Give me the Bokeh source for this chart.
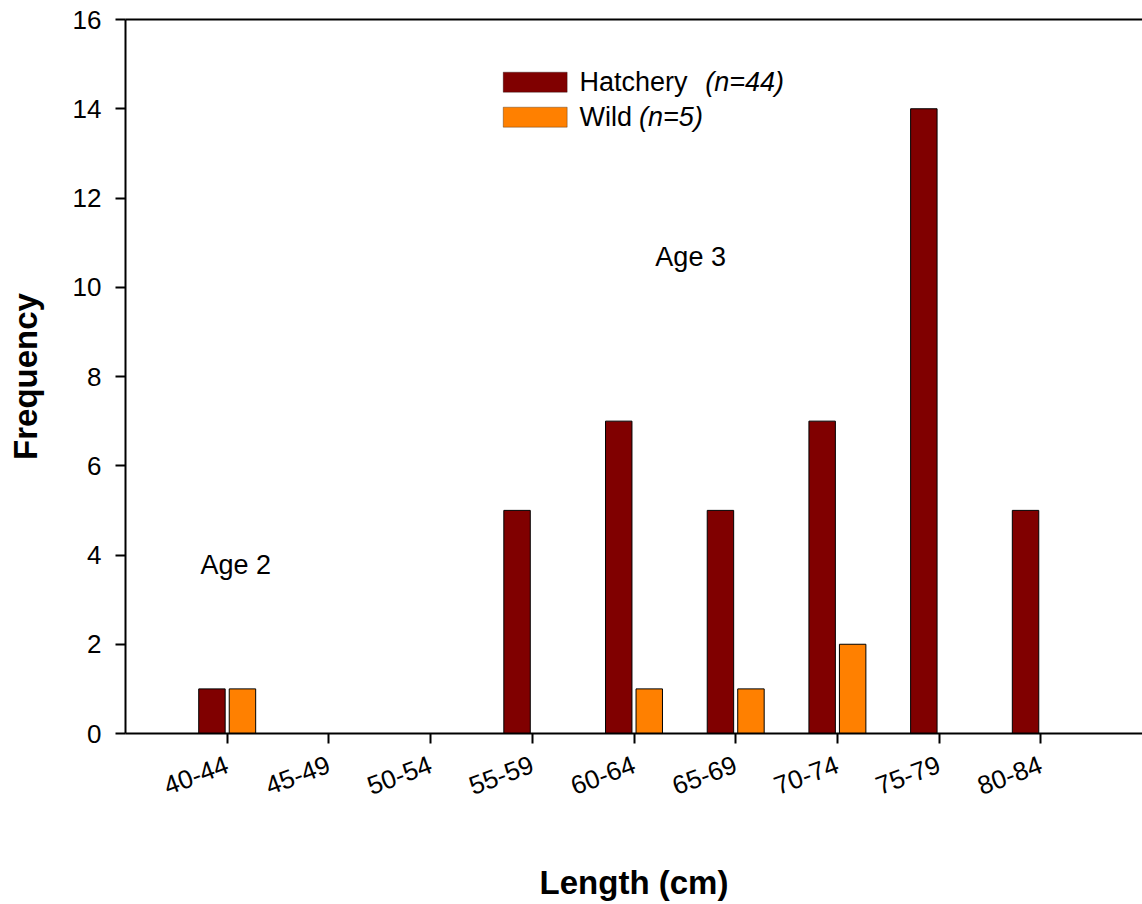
import numpy as np
from bokeh.plotting import figure
from bokeh.models import (ColumnDataSource, FixedTicker, Range1d, LinearAxis, Label,
                          BoxAnnotation)
from bokeh.embed import file_html
from bokeh.resources import INLINE

categories = ["40-44", "45-49", "50-54", "55-59", "60-64", "65-69", "70-74", "75-79", "80-84"]
hatchery = [1, 0, 0, 5, 7, 5, 7, 14, 5]
wild = [1, 0, 0, 0, 1, 1, 2, 0, 0]
y_ticks = [0, 2, 4, 6, 8, 10, 12, 14, 16]

HATCH_COLOR = "#800000"
WILD_COLOR = "#FF8000"
FONT = "Liberation Sans"

idx = np.arange(len(categories))

p = figure(width=1142, height=904, output_backend="svg", toolbar_location=None,
           x_range=Range1d(-1.0, 9.0), y_range=Range1d(0, 16),
           min_border_left=125, min_border_right=0, min_border_top=19,
           min_border_bottom=171)
p.grid.visible = False
p.outline_line_color = None
p.background_fill_color = "white"
p.border_fill_color = "white"

h = np.array(hatchery)
w = np.array(wild)
hm = h > 0
wm = w > 0
src_h = ColumnDataSource(dict(x=idx[hm] - 0.15, top=h[hm]))
src_w = ColumnDataSource(dict(x=idx[wm] + 0.15, top=w[wm]))
p.vbar(x="x", top="top", bottom=0, width=0.26, source=src_h,
       fill_color=HATCH_COLOR, line_color="black", line_width=1)
p.vbar(x="x", top="top", bottom=0, width=0.26, source=src_w,
       fill_color=WILD_COLOR, line_color="black", line_width=1)

# axes styling
xa = p.xaxis[0]
xa.ticker = FixedTicker(ticks=list(idx))
xa.major_label_overrides = {int(i): c for i, c in zip(idx, categories)}
xa.major_label_orientation = 0.36
xa.axis_label = "Length (cm)"
xa.axis_label_text_font = FONT
xa.axis_label_text_font_style = "bold"
xa.axis_label_text_font_size = "33px"
xa.axis_label_standoff = 57
xa.major_label_text_font = FONT
xa.major_label_text_font_size = "26px"
xa.major_label_standoff = 20
xa.minor_tick_line_color = None

ya = p.yaxis[0]
ya.ticker = FixedTicker(ticks=y_ticks)
ya.axis_label = "Frequency"
ya.axis_label_text_font = FONT
ya.axis_label_text_font_style = "bold"
ya.axis_label_text_font_size = "33px"
ya.axis_label_standoff = 26
ya.major_label_text_font = FONT
ya.major_label_text_font_size = "26px"
ya.major_label_standoff = 14
ya.minor_tick_line_color = None

for ax in (xa, ya):
    ax.axis_line_width = 2
    ax.major_tick_line_width = 2
    ax.major_tick_out = 10
    ax.major_tick_in = 0
    ax.axis_line_color = "black"
    ax.major_tick_line_color = "black"
    ax.major_label_text_color = "black"
    ax.axis_label_text_color = "black"

top_axis = LinearAxis(ticker=FixedTicker(ticks=[]), axis_line_width=2,
                      major_label_text_font_size="0px", minor_tick_line_color=None,
                      major_tick_line_color=None)
p.add_layout(top_axis, "above")

# annotations
p.add_layout(Label(x=-0.262, y=3.765, text="Age 2", text_font=FONT, text_font_size="27px",
                   text_color="black", text_baseline="middle", text_align="left"))
p.add_layout(Label(x=4.21, y=10.67, text="Age 3", text_font=FONT, text_font_size="27px",
                   text_color="black", text_baseline="middle", text_align="left"))

# custom legend (mixed regular/italic text)
p.add_layout(BoxAnnotation(left=2.714, right=3.343, bottom=14.37, top=14.82,
                           fill_color=HATCH_COLOR, fill_alpha=1, line_color="black", line_width=1))
p.add_layout(BoxAnnotation(left=2.714, right=3.343, bottom=13.587, top=14.035,
                           fill_color=WILD_COLOR, fill_alpha=1, line_color="black", line_width=1))
p.add_layout(Label(x=3.464, y=14.595, text="Hatchery", text_font=FONT, text_font_size="27px",
                   text_color="black", text_baseline="middle"))
p.add_layout(Label(x=4.70, y=14.595, text="(n=44)", text_font=FONT, text_font_size="27px",
                   text_color="black", text_font_style="italic", text_baseline="middle"))
p.add_layout(Label(x=3.464, y=13.81, text="Wild", text_font=FONT, text_font_size="27px",
                   text_color="black", text_baseline="middle"))
p.add_layout(Label(x=4.05, y=13.81, text="(n=5)", text_font=FONT, text_font_size="27px",
                   text_color="black", text_font_style="italic", text_baseline="middle"))

open("out.html", "w").write(file_html(p, INLINE))
